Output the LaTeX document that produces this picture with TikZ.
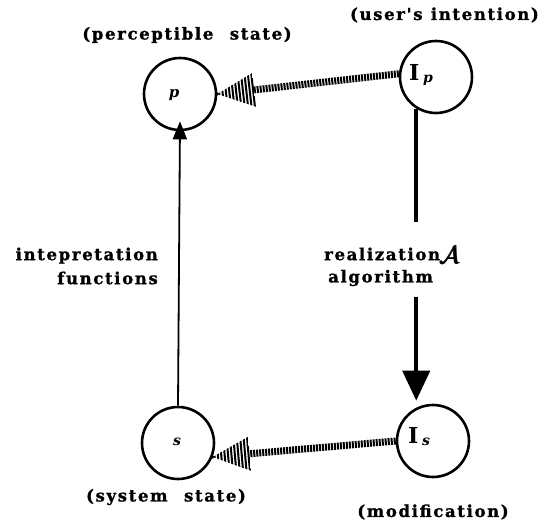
\documentclass[tikz,border=0pt]{standalone}
\usepackage{amsmath}
\usepackage{fontspec}
\setmainfont{DejaVu Serif}
\newfontfamily\capfont[LetterSpace=10,FakeBold=1.2]{DejaVu Serif}
\usetikzlibrary{calc,arrows.meta}

% Striped ("hatched") arrow: #1 start, #2 tip, #3 prefix for the helper coordinate
\newcommand\hatcharrow[3]{%
  \coordinate (#3b) at ($(#2)!37pt!(#1)$);
  \draw[hatch] (#1) -- (#3b);
  \begin{scope}
    \clip (#2) -- ($(#3b)!17pt!90:(#2)$) -- ($(#3b)!17pt!-90:(#2)$) -- cycle;
    \draw[hatch,line width=40pt,dash pattern=on 2pt off 1.4pt] (#3b) -- (#2);
  \end{scope}
  \fill (#2) circle (1.8pt);
}

\begin{document}
\begin{tikzpicture}[x=1pt,y=-1pt,
  state/.style={circle,draw,line width=2.6pt,minimum size=72pt,inner sep=0pt},
  lbl/.style={font=\capfont\bfseries\fontsize{16.5}{24}\selectfont,inner sep=0pt},
  sym/.style={inner sep=0pt,font=\bfseries},
  hatch/.style={line width=7pt,dash pattern=on 2pt off 1pt},
]
\useasboundingbox (0,0) rectangle (543,525);

% states
\node[state] (p)  at (180,94)  {};
\node[state] (Ip) at (436,77)  {};
\node[state] (s)  at (178,443) {};
\node[state] (Is) at (433,441) {};

% symbols inside the states
\node[sym] (pl)  at (174,95)  {\fontsize{15}{15}\selectfont\itshape p};
\node[sym] (sl)  at (177,442) {\fontsize{14}{14}\selectfont\itshape s};
\node[sym,anchor=west] (Ipl) at (409,75)  {\fontsize{22}{22}\selectfont I\,\raisebox{-2pt}{\fontsize{14}{14}\selectfont\itshape p}};
\node[sym,anchor=west] (Isl) at (408,437) {\fontsize{22}{22}\selectfont I\,\raisebox{-2pt}{\fontsize{14}{14}\selectfont\itshape s}};

% captions
\node[lbl] (cp)  at (187,35)  {(perceptible\quad state)};
\node[lbl,anchor=east] (cIp) at (539,15)  {(user's\enspace intention)};
\node[lbl] (cs)  at (166,497) {(system\quad state)};
\node[lbl] (cIs) at (433,512) {(modification)};
\node[lbl,align=right,anchor=east] (cint) at (158,266) {intepretation\\functions};
\node[lbl,anchor=west] (creal) at (324,254) {realization};
\node[lbl,anchor=west] (calg)  at (328,278) {algorithm};
\node[sym] (cA) at (450,255) {\fontsize{24}{24}\selectfont$\pmb{\mathcal{A}}$};

% interpretation: system state -> perceptible state
\draw[line width=1.8pt,-{Triangle[length=18pt,width=14pt]}] (s.north) -- ([yshift=10pt]p.south);

% realization: intention -> modification, broken around its label
\coordinate (rtop) at (Ip.-122);
\coordinate (rgap1) at (rtop |- 0,222);
\coordinate (rgap2) at (rtop |- 0,297);
\coordinate (rend) at (rtop |- Is.north);
\draw[line width=4pt] (rtop) -- (rgap1);
\draw[line width=4pt,-{Triangle[length=30pt,width=27pt]}] (rgap2) -- ([yshift=3pt]rend);

% striped arrows
\hatcharrow{Ip.175}{p.east}{th}
\hatcharrow{Is.west}{s.-22}{bh}
\end{tikzpicture}
\end{document}
